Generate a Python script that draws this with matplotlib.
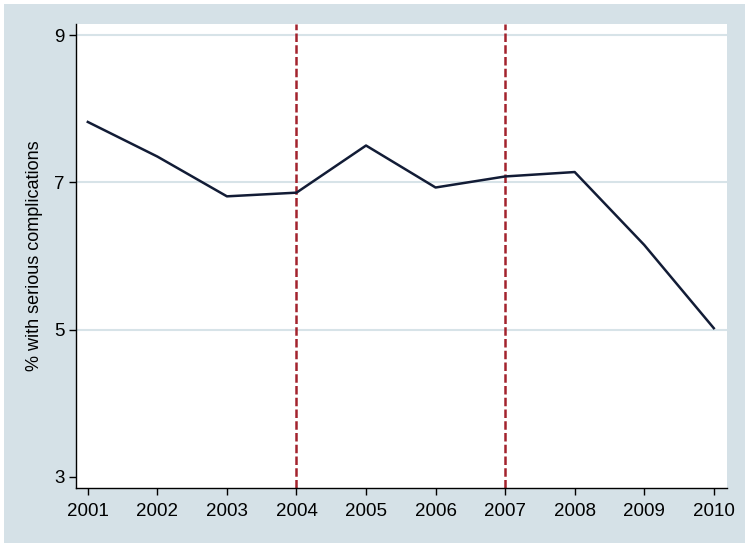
import matplotlib
matplotlib.use('Agg')
import matplotlib.pyplot as plt
from matplotlib.patches import Rectangle

# data
years = [2001, 2002, 2003, 2004, 2005, 2006, 2007, 2008, 2009, 2010]
pct_complications = [7.82, 7.35, 6.81, 6.86, 7.50, 6.93, 7.08, 7.14, 6.15, 5.02]
ref_years = [2004, 2007]
yticks = [3, 5, 7, 9]
grid_vals = [5, 7, 9]

plt.rcParams['font.family'] = ['Liberation Sans', 'DejaVu Sans']

fig = plt.figure(figsize=(7.5, 5.48), dpi=100)
fig.patch.set_facecolor('white')
# bluish-gray graph region with thin white margin
fig.patches.append(Rectangle((4/750, 5/548), 741/750, 539/548, transform=fig.transFigure,
                             facecolor='#D5E1E7', edgecolor='none', zorder=-5))

ax = fig.add_axes([76/750, 60/548, 651/750, 464/548])
ax.set_facecolor('white')

for g in grid_vals:
    ax.axhline(g, color='#D7E3E8', linewidth=1.5, zorder=1)

ax.plot(years, pct_complications, color='#121C36', linewidth=1.8, zorder=3)

for yr in ref_years:
    ln = ax.axvline(yr, color='#A3232D', linewidth=1.8, zorder=2)
    ln.set_dashes((3.4, 1.3))

ax.set_xlim(2000.83, 2010.19)
ax.set_ylim(2.85, 9.15)
ax.set_xticks(years)
ax.set_yticks(yticks)
ax.set_yticklabels([str(t) for t in yticks], rotation=0)

for s in ['top', 'right']:
    ax.spines[s].set_visible(False)
for s in ['left', 'bottom']:
    ax.spines[s].set_color('black')
    ax.spines[s].set_linewidth(1.0)

ax.tick_params(axis='both', direction='out', length=5, width=1.0, labelsize=13.5, colors='black')
ax.tick_params(axis='x', pad=6)
ax.tick_params(axis='y', pad=3)

ax.set_ylabel('% with serious complications', fontsize=13, labelpad=8)

plt.savefig('out.png', dpi=100)
